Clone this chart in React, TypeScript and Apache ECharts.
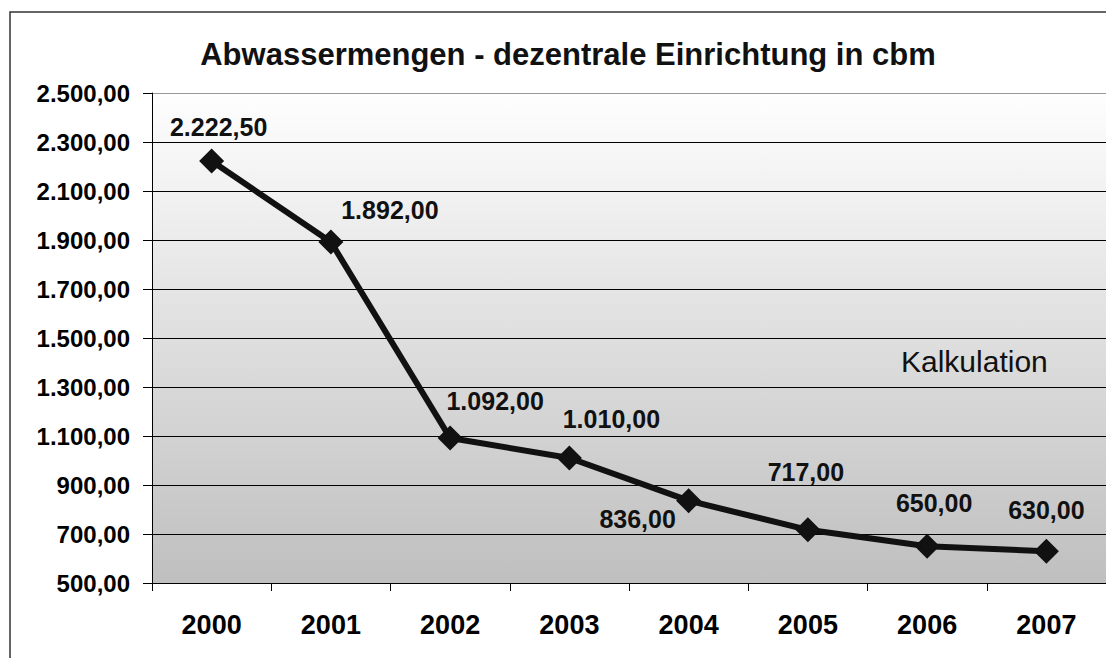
import React, { useEffect, useRef } from "react";
import * as echarts from "echarts";

const years = ["2000", "2001", "2002", "2003", "2004", "2005", "2006", "2007"];
const amounts = [2222.5, 1892, 1092, 1010, 836, 717, 650, 630];
// label centre offsets relative to each point
const labelOffsets: [number, number][] = [
  [7, -34],
  [59, -32],
  [45, -37],
  [42, -39],
  [-51, 18],
  [-2, -58],
  [7, -43],
  [0, -41],
];
const titleText = "Abwassermengen - dezentrale Einrichtung in cbm";
const noteText = "Kalkulation";

const fmt = (v: number) => {
  const [i, d] = v.toFixed(2).split(".");
  return i.replace(/\B(?=(\d{3})+(?!\d))/g, ".") + "," + d;
};

export default function App() {
  const ref = useRef<HTMLDivElement>(null);
  useEffect(() => {
    document.body.style.margin = "0";
    const chart = echarts.init(ref.current!, null, { renderer: "svg" });
    const font = "'Liberation Sans', Arial, sans-serif";
    const splitColors = Array(10).fill("#000").concat(["#999"]);
    chart.setOption({
      animation: false,
      backgroundColor: "#fff",
      grid: {
        left: 152,
        top: 93,
        width: 956,
        height: 490,
        show: true,
        borderWidth: 0,
        backgroundColor: new echarts.graphic.LinearGradient(0, 0, 0, 1, [
          { offset: 0, color: "#fefefe" },
          { offset: 1, color: "#bfbfbf" },
        ]),
      },
      xAxis: {
        type: "category",
        data: years,
        boundaryGap: true,
        axisLine: { lineStyle: { color: "#000", width: 1 } },
        axisTick: { show: true, length: 8, lineStyle: { color: "#000" } },
        axisLabel: { fontFamily: font, fontSize: 27, fontWeight: "bold", color: "#000", margin: 28 },
      },
      yAxis: {
        type: "value",
        min: 500,
        max: 2500,
        interval: 200,
        axisLine: { show: true, lineStyle: { color: "#000", width: 1 } },
        axisTick: { show: true, length: 9, lineStyle: { color: "#000" } },
        axisLabel: {
          fontFamily: font,
          fontSize: 24,
          fontWeight: "bold",
          color: "#000",
          margin: 22,
          formatter: (v: number) => fmt(v),
        },
        splitLine: { show: true, lineStyle: { color: splitColors, width: 1 } },
      },
      graphic: [
        {
          type: "rect",
          shape: { x: 10, y: 12, width: 1200, height: 800 },
          style: { fill: "none", stroke: "#333", lineWidth: 1.5 },
          silent: true,
        },
        {
          type: "text",
          x: 568,
          y: 54,
          style: {
            text: titleText,
            fontFamily: font,
            fontSize: 31,
            fontWeight: "bold",
            fill: "#111",
            align: "center",
            verticalAlign: "middle",
          },
        },
        {
          type: "text",
          x: 901,
          y: 361,
          style: {
            text: noteText,
            fontFamily: font,
            fontSize: 30,
            fill: "#111",
            align: "left",
            verticalAlign: "middle",
          },
        },
      ],
      series: [
        {
          type: "line",
          data: amounts.map((v, i) => ({
            value: v,
            label: { offset: labelOffsets[i] },
          })),
          lineStyle: { color: "#111", width: 6 },
          itemStyle: { color: "#111" },
          symbol: "diamond",
          symbolSize: 25,
          label: {
            show: true,
            position: "inside",
            fontFamily: font,
            fontSize: 25,
            fontWeight: "bold",
            color: "#111",
            formatter: (p: any) => fmt(p.value),
          },
        },
      ],
    });
    return () => chart.dispose();
  }, []);
  return <div ref={ref} style={{ width: 1106, height: 658 }} />;
}
